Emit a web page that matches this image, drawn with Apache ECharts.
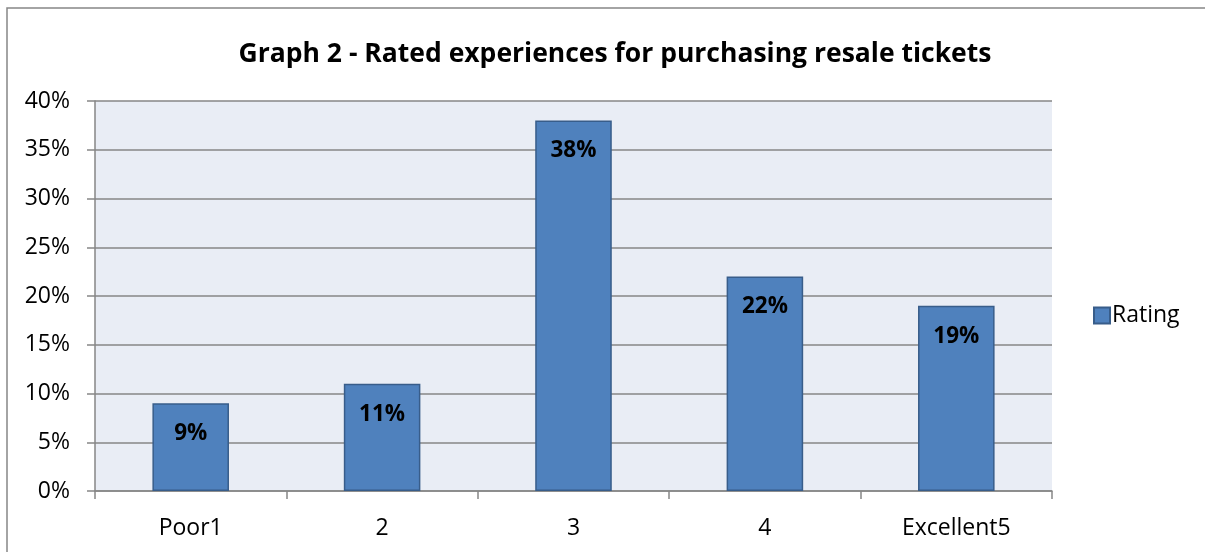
<!DOCTYPE html>
<html>
<head>
<meta charset="utf-8">
<script src="https://cdn.jsdelivr.net/npm/echarts@6/dist/echarts.min.js"></script>
<style>
  html, body { margin: 0; padding: 0; background: #fff; }
  #chart { width: 1205px; height: 552px; }
</style>
</head>
<body>
<div id="chart"></div>
<script>
// Survey results: share of respondents per rating
const categories = ['Poor1', '2', '3', '4', 'Excellent5'];
const ratingValues = [9, 11, 38, 22, 19];
const seriesName = 'Rating';
const chartTitle = 'Graph 2 - Rated experiences for purchasing resale tickets';

const FONT = '"Open Sans", sans-serif';

const chart = echarts.init(document.getElementById('chart'));
chart.setOption({
  animation: false,
  backgroundColor: '#ffffff',
  title: {
    text: chartTitle,
    left: 610,
    top: 36,
    textAlign: 'center',
    textStyle: { fontFamily: FONT, fontSize: 26.5, fontWeight: 'bold', color: '#000' }
  },
  legend: {
    data: [seriesName],
    left: 1093,
    top: 304,
    padding: 0,
    itemWidth: 16,
    itemHeight: 16,
    itemGap: 6,
    icon: 'rect',
    textStyle: { fontFamily: FONT, fontSize: 23, color: '#000', padding: [0, 0, 0, -3] }
  },
  graphic: [{
    type: 'rect',
    shape: { x: 7, y: 8, width: 1210, height: 560 },
    style: { fill: 'none', stroke: '#868686', lineWidth: 1.5 },
    silent: true
  }],
  grid: {
    left: 95, right: 153, top: 101, bottom: 61,
    show: true,
    backgroundColor: '#E9EDF5',
    borderWidth: 0
  },
  xAxis: {
    type: 'category',
    data: categories,
    axisLine: { show: true, lineStyle: { color: '#868686', width: 1.5 } },
    axisTick: { show: true, length: 8, alignWithLabel: false, lineStyle: { color: '#868686', width: 1.5 } },
    axisLabel: { fontFamily: FONT, fontSize: 23, color: '#000', margin: 26 }
  },
  yAxis: {
    type: 'value',
    min: 0,
    max: 40,
    interval: 5,
    axisLine: { show: true, lineStyle: { color: '#868686', width: 1.5 } },
    axisTick: { show: true, inside: false, length: 8, lineStyle: { color: '#868686', width: 1.5 } },
    splitLine: { show: true, lineStyle: { color: '#868686', width: 1.5 } },
    axisLabel: { fontFamily: FONT, fontSize: 23, color: '#000', margin: 25, formatter: '{value}%' }
  },
  series: [{
    name: seriesName,
    type: 'bar',
    data: ratingValues,
    barCategoryGap: '60%',
    itemStyle: { color: '#4F81BD', borderColor: '#385D8A', borderWidth: 1.5 },
    label: {
      show: true,
      position: 'insideTop',
      distance: 19,
      formatter: '{c}%',
      fontFamily: FONT,
      fontSize: 22.5,
      fontWeight: 'bold',
      color: '#000'
    }
  }]
});
</script>
</body>
</html>
